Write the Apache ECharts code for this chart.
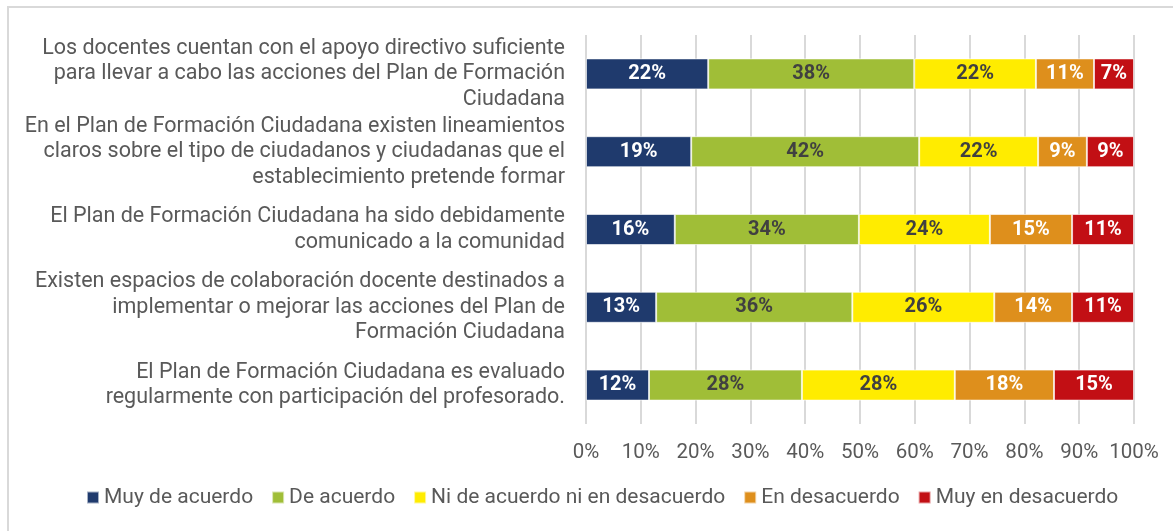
<!DOCTYPE html>
<html>
<head>
<meta charset="utf-8">
<script src="https://cdn.jsdelivr.net/npm/echarts@6/dist/echarts.min.js"></script>
<style>
  html, body { margin: 0; padding: 0; background: #fff; }
  #chart { width: 1173px; height: 531px; }
</style>
</head>
<body>
<div id="chart"></div>
<script>
// statements, top to bottom
const categories = [
  'Los docentes cuentan con el apoyo directivo suficiente\npara llevar a cabo las acciones del Plan de Formación\nCiudadana',
  'En el Plan de Formación Ciudadana existen lineamientos\nclaros sobre el tipo de ciudadanos y ciudadanas que el\nestablecimiento pretende formar',
  'El Plan de Formación Ciudadana ha sido debidamente\ncomunicado a la comunidad',
  'Existen espacios de colaboración docente destinados a\nimplementar o mejorar las acciones del Plan de\nFormación Ciudadana',
  'El Plan de Formación Ciudadana es evaluado\nregularmente con participación del profesorado.'
]

const seriesNames = ['Muy de acuerdo', 'De acuerdo', 'Ni de acuerdo ni en desacuerdo', 'En desacuerdo', 'Muy en desacuerdo']

// percentages
const muyDeAcuerdo = [22.3, 19.2, 16.2, 12.8, 11.5]
const deAcuerdo = [37.6, 41.6, 33.6, 35.8, 27.9]
const niNi = [22.2, 21.7, 23.9, 25.9, 27.9]
const enDesacuerdo = [10.6, 8.9, 15.0, 14.2, 18.1]
const muyEnDesacuerdo = [7.3, 8.6, 11.3, 11.3, 14.6]

const xTicks = { min: 0, max: 100, interval: 10 }

const colors = ['#1f3a6d', '#a0be37', '#ffec00', '#de8f1c', '#c20f14']
const labelColors = ['#ffffff', '#404040', '#404040', '#ffffff', '#ffffff']

const chart = echarts.init(document.getElementById('chart'))

const values = [muyDeAcuerdo, deAcuerdo, niNi, enDesacuerdo, muyEnDesacuerdo]

const option = {
  animation: false,
  textStyle: { fontFamily: 'Roboto' },
  graphic: [
    {
      type: 'polyline',
      shape: { points: [[8, 540], [8, 7], [1180, 7]] },
      style: { stroke: '#d9d9d9', lineWidth: 2, fill: null }
    }
  ],
  grid: { left: 586, right: 39, top: 35, bottom: 107 },
  legend: {
    top: 487,
    left: 86,
    padding: 0,
    itemWidth: 12,
    itemHeight: 12,
    itemGap: 18,
    icon: 'rect',
    textStyle: { fontSize: 21, color: '#595959' },
    data: seriesNames
  },
  xAxis: {
    type: 'value',
    min: xTicks.min,
    max: xTicks.max,
    interval: xTicks.interval,
    axisLine: { show: false },
    axisTick: { show: false },
    axisLabel: { formatter: '{value}%', fontSize: 20.5, color: '#595959', margin: 18 },
    splitLine: { lineStyle: { color: '#d9d9d9', width: 2 } }
  },
  yAxis: {
    type: 'category',
    inverse: true,
    data: categories,
    axisLine: { show: false },
    axisTick: { show: false },
    axisLabel: { fontSize: 21.5, color: '#595959', lineHeight: 25.5, margin: 21, align: 'right' }
  },
  series: seriesNames.map((name, i) => ({
    name: name,
    type: 'bar',
    stack: 'total',
    barWidth: 31,
    data: values[i],
    itemStyle: { color: colors[i], borderColor: 'rgba(255,255,255,0.6)', borderWidth: 1 },
    label: {
      show: true,
      position: 'inside',
      fontSize: 20,
      fontWeight: 'bold',
      color: labelColors[i],
      formatter: p => Math.round(p.value) + '%'
    }
  }))
}

chart.setOption(option)
</script>
</body>
</html>
